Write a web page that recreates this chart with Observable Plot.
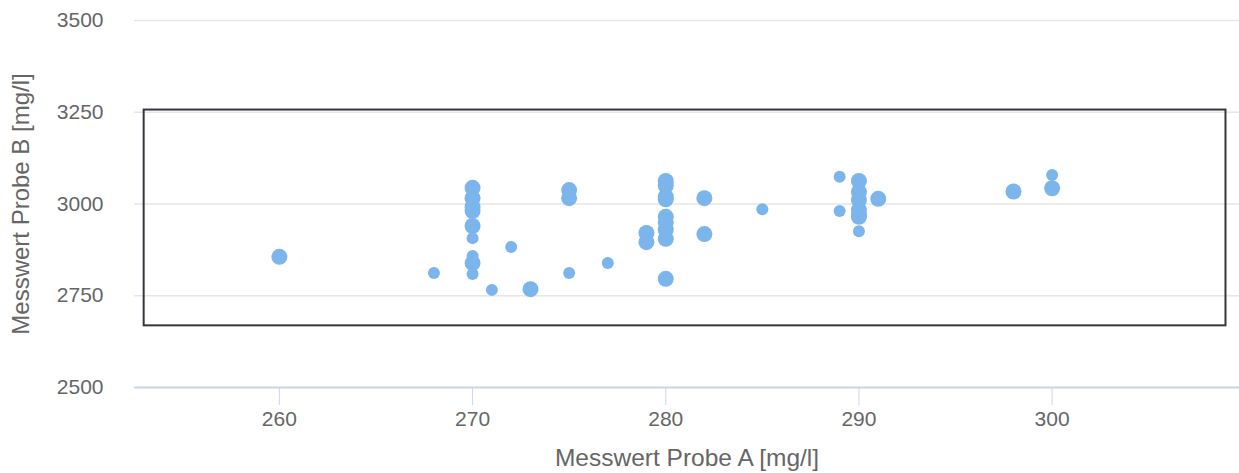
<!DOCTYPE html>
<html>
<head>
<meta charset="utf-8">
<script src="https://cdn.jsdelivr.net/npm/d3@7"></script>
<script src="https://cdn.jsdelivr.net/npm/@observablehq/plot@0.6"></script>
<style>
  html, body { margin: 0; padding: 0; background: #ffffff; }
  #chart svg { display: block; }
</style>
</head>
<body>
<div id="chart"></div>
<script>
// Measured values (Probe A, Probe B) and point weight (1 = small, 2 = large)
const probeA = [
  260,
  268,
  270, 270, 270, 270, 270, 270, 270, 270, 270,
  271, 272, 273,
  275, 275, 275,
  277,
  279, 279,
  280, 280, 280, 280, 280, 280, 280, 280, 280,
  282, 282,
  285,
  289, 289,
  290, 290, 290, 290, 290, 290, 290,
  291,
  298,
  300, 300
];
const probeB = [
  2856,
  2812,
  3044, 3016, 2992, 2981, 2940, 2907, 2858, 2839, 2809,
  2766, 2883, 2768,
  3038, 3016, 2812,
  2839,
  2921, 2896,
  3063, 3050, 3020, 3013, 2965, 2950, 2930, 2905, 2796,
  3016, 2918,
  2986,
  3074, 2981,
  3063, 3033, 3011, 2984, 2970, 2965, 2926,
  3014,
  3034,
  3079, 3043
];
const weight = [
  2,
  1,
  2, 2, 2, 2, 2, 1, 1, 2, 1,
  1, 1, 2,
  2, 2, 1,
  1,
  2, 2,
  2, 2, 2, 2, 2, 2, 2, 2, 2,
  2, 2,
  1,
  1, 1,
  2, 2, 2, 2, 2, 2, 1,
  2,
  2,
  1, 2
];
const xTicks = [260, 270, 280, 290, 300];
const yTicks = [2500, 2750, 3000, 3250, 3500];
const boxA = [253, 309];
const boxB = [2668, 3256];
const xTitle = "Messwert Probe A [mg/l]";
const yTitle = "Messwert Probe B [mg/l]";

const points = probeA.map((a, i) => ({a, b: probeB[i], w: weight[i]}));
const box = [{x1: boxA[0], x2: boxA[1], y1: boxB[0], y2: boxB[1]}];

const chart = Plot.plot({
  width: 1239,
  height: 473,
  marginLeft: 134,
  marginRight: 0,
  marginTop: 20,
  marginBottom: 86,
  style: {fontFamily: "'Liberation Sans', Arial, sans-serif", color: "#666666", background: "#ffffff"},
  x: {domain: [252.5, 309.7]},
  y: {domain: [2500, 3500]},
  r: {type: "linear", domain: [1, 2], range: [6, 8]},
  marks: [
    Plot.gridY(yTicks, {stroke: "#e6e6e6", strokeOpacity: 1, strokeWidth: 1.5}),
    Plot.ruleY([yTicks[0]], {stroke: "#ccd6eb", strokeWidth: 2}),
    Plot.axisX(xTicks, {tickSize: 18, tickPadding: 6, stroke: "#ccd6eb", fill: "#666666", fontSize: 21, tickFormat: d => String(d), label: null}),
    Plot.axisY(yTicks, {tickSize: 0, tickPadding: 31, fill: "#666666", fontSize: 21, tickFormat: d => String(d), label: null}),
    Plot.rect(box, {x1: "x1", x2: "x2", y1: "y1", y2: "y2", fill: "none", stroke: "#33363d", strokeWidth: 2}),
    Plot.dot(points, {x: "a", y: "b", r: "w", fill: "#7cb5ec", stroke: "none"}),
    Plot.text([xTitle], {text: d => d, frameAnchor: "bottom", textAnchor: "middle", dy: 78, fontSize: 24.5, fill: "#666666"}),
    Plot.text([yTitle], {text: d => d, frameAnchor: "left", textAnchor: "middle", dx: -113, rotate: -90, fontSize: 24, fill: "#666666"})
  ]
});
document.getElementById("chart").appendChild(chart);
</script>
</body>
</html>
